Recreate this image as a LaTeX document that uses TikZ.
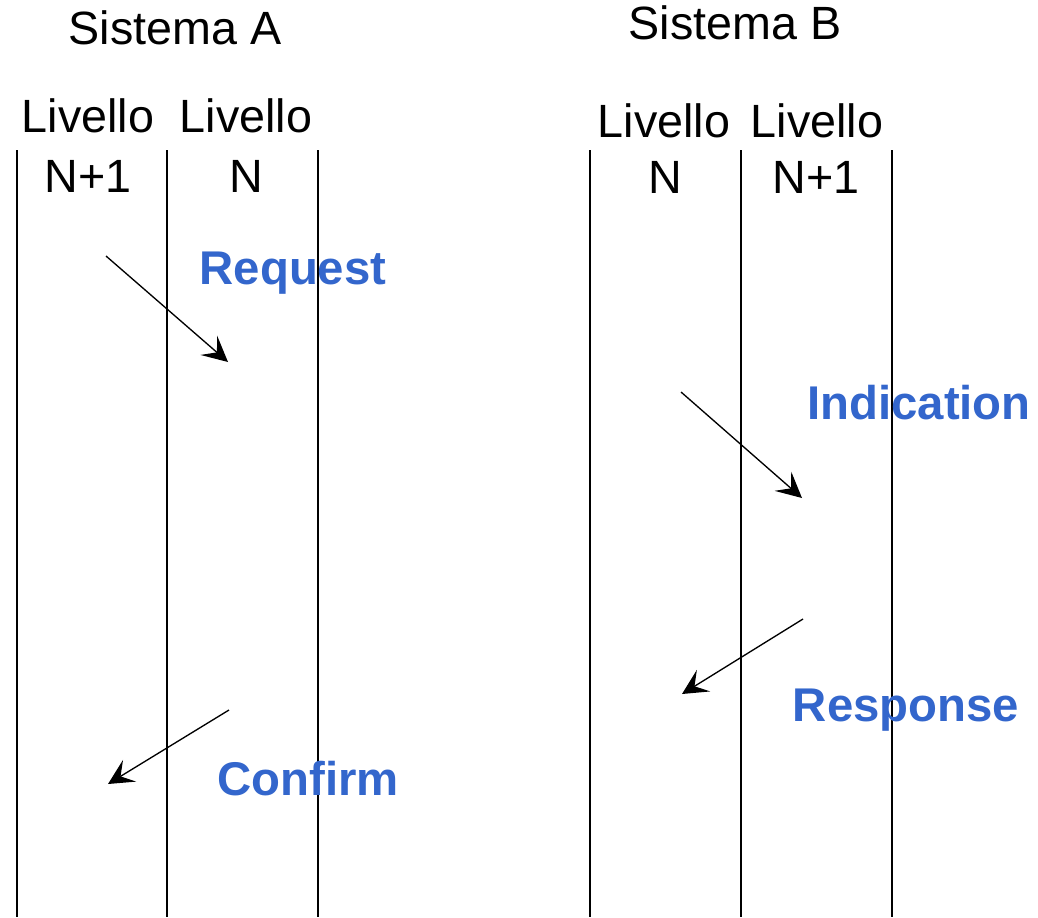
\documentclass[tikz,border=0pt]{standalone}
\usepackage{fontspec}
\setmainfont{Liberation Sans}
\usetikzlibrary{arrows.meta}
\definecolor{lblue}{HTML}{3366CC}
\begin{document}
\begin{tikzpicture}[x=0.75pt,y=-0.75pt,
  lane/.style={line width=1pt,black},
  hdr/.style={font=\fontsize{35}{40}\selectfont,inner sep=0pt,anchor=base},
  prim/.style={font=\fontsize{35.5}{40}\selectfont\bfseries,text=lblue,inner sep=0pt,anchor=base},
  msg/.style={line width=1pt,-{Stealth[length=19pt,width=19pt,inset=8pt]}}]
\useasboundingbox (0,0) rectangle (1038,917);
% lanes
\foreach \n/\x in {a1/17,a2/167,a3/318,b1/590,b2/741,b3/892}{
  \coordinate (\n top) at (\x,150);
  \coordinate (\n bot) at (\x,917);
  \draw[lane] (\n top) -- (\n bot);
}
% headers
\node[hdr] (sa) at (175,45) {Sistema A};
\node[hdr] (sb) at (735,40) {Sistema B};
\node[hdr] (la1) at (88,132) {Livello};
\node[hdr] (la2) at (246,132) {Livello};
\node[hdr] (na1) at (88,192) {N+1};
\node[hdr] (na2) at (246,192) {N};
\node[hdr] (lb1) at (664,137) {Livello};
\node[hdr] (lb2) at (817,137) {Livello};
\node[hdr] (nb1) at (665,193) {N};
\node[hdr] (nb2) at (816,193) {N+1};
% primitives
\node[prim] (req) at (293,284) {Request};
\node[prim] (conf) at (308,795) {Confirm};
\node[prim] (ind) at (919,419) {Indication};
\node[prim] (resp) at (906,721) {Response};
% arrows
\coordinate (r1) at (106,256); \coordinate (r2) at (228,362);
\coordinate (c1) at (229,710); \coordinate (c2) at (108,784);
\coordinate (i1) at (681,392); \coordinate (i2) at (802,498);
\coordinate (s1) at (803,619); \coordinate (s2) at (682,694);
\draw[msg] (r1) -- (r2);
\draw[msg] (c1) -- (c2);
\draw[msg] (i1) -- (i2);
\draw[msg] (s1) -- (s2);
\end{tikzpicture}
\end{document}
